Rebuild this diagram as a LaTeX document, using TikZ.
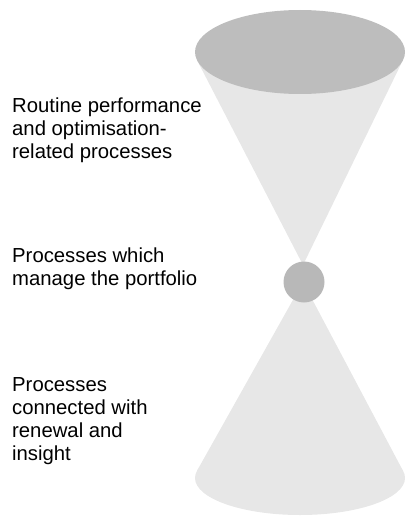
\documentclass[tikz,border=0pt]{standalone}
\usepackage{fontspec}
\setmainfont{Liberation Sans}
\definecolor{conefill}{gray}{0.905}
\definecolor{topfill}{gray}{0.74}
\definecolor{ballfill}{gray}{0.72}
\begin{document}
\begin{tikzpicture}[x=1pt,y=-1pt,
  label text/.style={anchor=base west,inner sep=0pt,align=left,
    font=\fontsize{20.3}{23}\selectfont}]
\useasboundingbox (0,0) rectangle (406,516);
% top cone
\coordinate (topapex) at (303,265);
\fill[conefill] (topapex) -- (197.2,60.5) -- (403,60) -- cycle;
\fill[topfill] (300,52) ellipse [x radius=105, y radius=42];
% bottom cone
\coordinate (botapex) at (303,282);
\fill[conefill] (botapex) -- (197,470.8) -- (403.2,471.2) -- cycle;
\fill[conefill] (300,478) ellipse [x radius=105, y radius=37];
% ball
\fill[ballfill] (304,282) circle [radius=20.5];
% texts (anchor base = baseline of last line)
\node[label text] (t1) at (12,158) {Routine performance\\and optimisation-\\related processes};
\node[label text] (t2) at (12,285) {Processes which\\manage the portfolio};
\node[label text] (t3) at (12,460) {Processes\\connected with\\renewal and\\insight};
\end{tikzpicture}
\end{document}
